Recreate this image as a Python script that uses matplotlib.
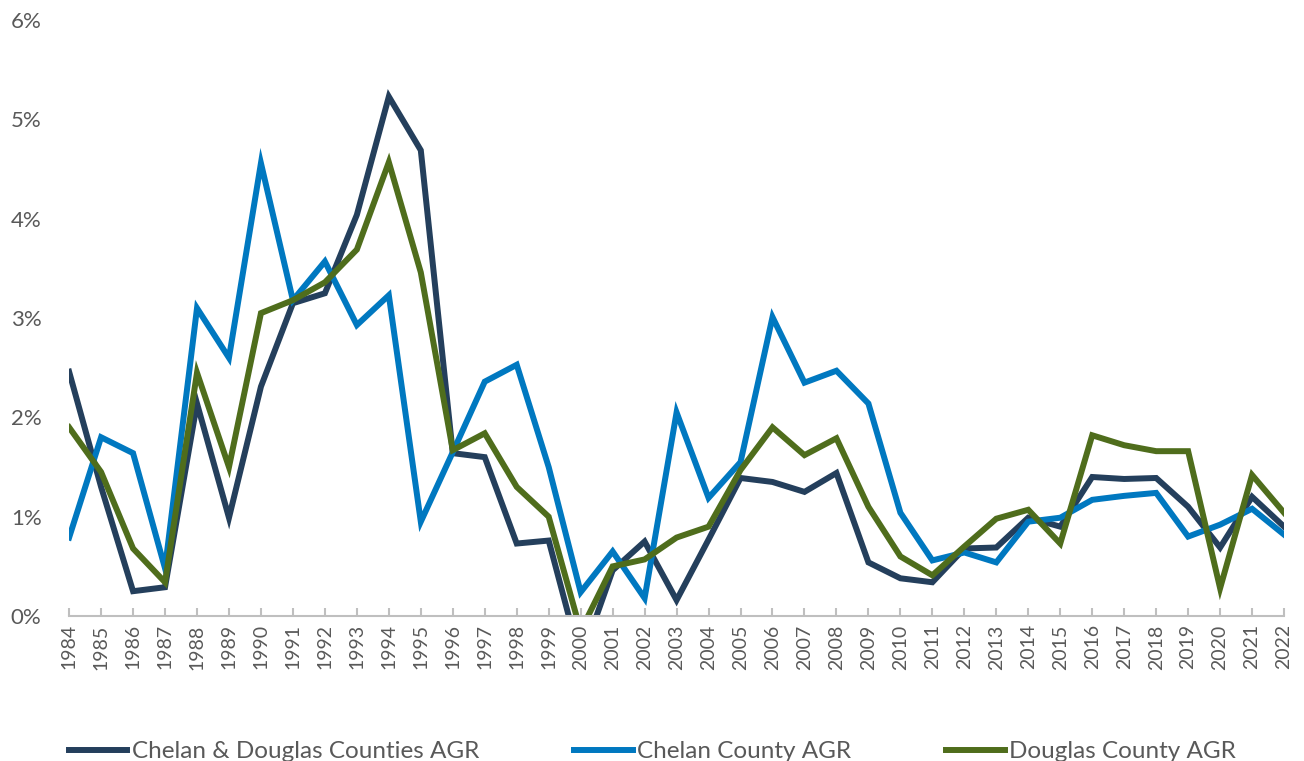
import matplotlib
matplotlib.use("Agg")
import matplotlib.pyplot as plt
from matplotlib.ticker import FuncFormatter

plt.rcParams['font.family'] = ['Lato', 'DejaVu Sans']

# annual growth rate (%)
years = list(range(1984, 2023))
both_counties = [2.46, 1.30, 0.25, 0.29, 2.14, 0.99, 2.31, 3.15, 3.25, 4.04,
                 5.23, 4.69, 1.64, 1.60, 0.73, 0.76, -0.45, 0.46, 0.75, 0.16,
                 0.77, 1.39, 1.35, 1.25, 1.44, 0.54, 0.38, 0.34, 0.68, 0.69,
                 0.99, 0.90, 1.40, 1.38, 1.39, 1.10, 0.69, 1.20, 0.90]
chelan = [0.79, 1.80, 1.64, 0.48, 3.10, 2.60, 4.56, 3.18, 3.57, 2.93,
          3.23, 0.95, 1.65, 2.36, 2.53, 1.50, 0.24, 0.65, 0.18, 2.05,
          1.19, 1.55, 3.01, 2.35, 2.47, 2.14, 1.04, 0.56, 0.64, 0.54,
          0.95, 0.99, 1.17, 1.21, 1.24, 0.80, 0.92, 1.08, 0.82]
douglas = [1.90, 1.45, 0.68, 0.34, 2.45, 1.50, 3.05, 3.18, 3.36, 3.69,
           4.57, 3.46, 1.67, 1.84, 1.30, 1.00, -0.15, 0.50, 0.57, 0.79,
           0.90, 1.47, 1.90, 1.62, 1.79, 1.10, 0.60, 0.41, 0.70, 0.98,
           1.07, 0.73, 1.82, 1.72, 1.66, 1.66, 0.28, 1.42, 1.04]

series_names = ["Chelan & Douglas Counties AGR", "Chelan County AGR", "Douglas County AGR"]
colors = ["#243f5c", "#0078c0", "#4f6d1c"]

fig = plt.figure(figsize=(13.04, 7.61), dpi=100)
ax = fig.add_axes([0.053, 0.1905, 0.9317, 0.783])

for vals, name, c in zip([both_counties, chelan, douglas], series_names, colors):
    ax.plot(years, vals, color=c, linewidth=4.3, label=name, solid_joinstyle='miter')

ax.set_xlim(1984, 2022)
ax.set_ylim(0, 6)
ax.set_yticks(range(0, 7))
ax.yaxis.set_major_formatter(FuncFormatter(lambda v, p: f"{int(v)}%"))
ax.set_xticks(years)
ax.set_xticklabels([str(y) for y in years], rotation=90)

for s in ["top", "right", "left"]:
    ax.spines[s].set_visible(False)
ax.spines["bottom"].set_color("#bfbfbf")
ax.spines["bottom"].set_linewidth(1.5)
ax.tick_params(axis="x", direction="in", length=6, width=1.5, color="#bfbfbf",
               labelsize=14, labelcolor="#595959", pad=6)
ax.tick_params(axis="y", length=0, labelsize=16, labelcolor="#595959", pad=42)
for lbl in ax.get_yticklabels():
    lbl.set_horizontalalignment("left")

fig.legend(loc="center left", bbox_to_anchor=(0.036, 0.012), ncol=3, frameon=False,
           fontsize=17.5, labelcolor="#595959", handlelength=2.4, handletextpad=0.2,
           columnspacing=3.9)

fig.savefig("out.png", dpi=100)
